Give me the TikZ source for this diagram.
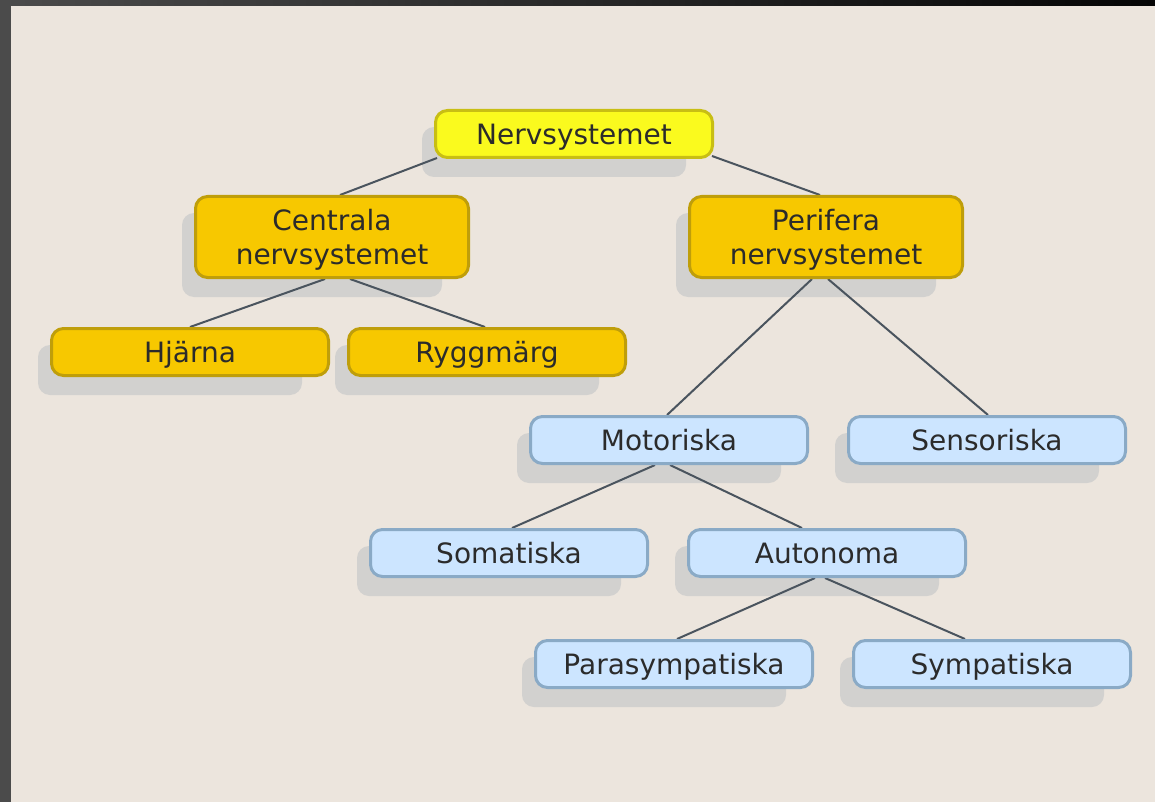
\documentclass[tikz,border=0pt]{standalone}
\usepackage{fontspec}
\setmainfont{DejaVu Sans}
\usetikzlibrary{calc}
\definecolor{bgc}{HTML}{ECE5DD}
\definecolor{framec}{HTML}{4B4B4B}
\definecolor{framedark}{HTML}{050505}
\definecolor{yfill}{HTML}{FAFA1E}
\definecolor{ydraw}{HTML}{C8BE14}
\definecolor{gfill}{HTML}{F7C800}
\definecolor{gdraw}{HTML}{BF9E0A}
\definecolor{bfill}{HTML}{CCE5FF}
\definecolor{bdraw}{HTML}{8AAAC6}
\definecolor{shadc}{HTML}{D2D1CF}
\definecolor{linec}{HTML}{4A545E}
\definecolor{textc}{HTML}{2B2B2B}
\pgfdeclarelayer{back}
\pgfdeclarelayer{mid}
\pgfsetlayers{back,mid,main}
\tikzset{
  box/.style={rounded corners=9pt, line width=2.25pt, inner sep=0pt,
    minimum width=207.75pt, minimum height=35.25pt, align=center,
    text=textc, font=\fontsize{21}{25.5}\selectfont},
  oneline/.style={text height=20.3pt, text depth=5pt},
  topbox/.style={box, oneline, fill=yfill, draw=ydraw},
  goldbox/.style={box, oneline, fill=gfill, draw=gdraw},
  tallbox/.style={box, fill=gfill, draw=gdraw, text height=45.3pt,
    minimum width=204.75pt, minimum height=60.75pt},
  bluebox/.style={box, oneline, fill=bfill, draw=bdraw},
  conn/.style={draw=linec, line width=1.5pt},
  shad/.style={fill=shadc, rounded corners=9pt}
}
\newcommand{\shadowof}[1]{\fill[shad] ($(#1.north west)+(-12,18)$) rectangle ($(#1.south east)+(-28,18)$);}
\begin{document}
\begin{tikzpicture}[x=0.75pt,y=-0.75pt]
\useasboundingbox (0,0) rectangle (1155,802);
\begin{pgfonlayer}{back}
\fill[bgc] (0,0) rectangle (1155,802);
\shade[left color=framec, right color=framedark] (0,0) rectangle (1155,6);
\fill[framec] (0,0) rectangle (11,802);
\end{pgfonlayer}

\node[topbox] (nerv) at (574,134) {Nervsystemet};
\node[tallbox] (cn) at (332,237) {Centrala\\nervsystemet};
\node[tallbox] (pf) at (826,237) {Perifera\\nervsystemet};
\node[goldbox] (hj) at (190,352) {Hjärna};
\node[goldbox] (ry) at (487,352) {Ryggmärg};
\node[bluebox] (mo) at (669,440) {Motoriska};
\node[bluebox] (se) at (987,440) {Sensoriska};
\node[bluebox] (so) at (509,553) {Somatiska};
\node[bluebox] (au) at (827,553) {Autonoma};
\node[bluebox] (pa) at (674,664) {Parasympatiska};
\node[bluebox] (sy) at (992,664) {Sympatiska};

\begin{pgfonlayer}{back}
\shadowof{nerv}
\shadowof{cn}
\shadowof{pf}
\shadowof{hj}
\shadowof{ry}
\shadowof{mo}
\shadowof{se}
\shadowof{so}
\shadowof{au}
\shadowof{pa}
\shadowof{sy}
\end{pgfonlayer}

\begin{pgfonlayer}{mid}
\draw[conn] ($(nerv.south)+(-137,-1)$) -- ($(cn.north)+(8,0)$);
\draw[conn] ($(nerv.south)+(138,-3)$) -- ($(pf.north)+(-6,0)$);
\draw[conn] ($(cn.south)+(-7,0)$) -- ($(hj.north)+(0,0)$);
\draw[conn] ($(cn.south)+(18,0)$) -- ($(ry.north)+(-2,0)$);
\draw[conn] ($(pf.south)+(-14,0)$) -- ($(mo.north)+(-2,0)$);
\draw[conn] ($(pf.south)+(2,0)$) -- ($(se.north)+(1,0)$);
\draw[conn] ($(mo.south)+(-14,0)$) -- ($(so.north)+(3,0)$);
\draw[conn] ($(mo.south)+(1,0)$) -- ($(au.north)+(-25,0)$);
\draw[conn] ($(au.south)+(-12,0)$) -- ($(pa.north)+(3,0)$);
\draw[conn] ($(au.south)+(-2,0)$) -- ($(sy.north)+(-27,0)$);
\end{pgfonlayer}
\end{tikzpicture}
\end{document}
